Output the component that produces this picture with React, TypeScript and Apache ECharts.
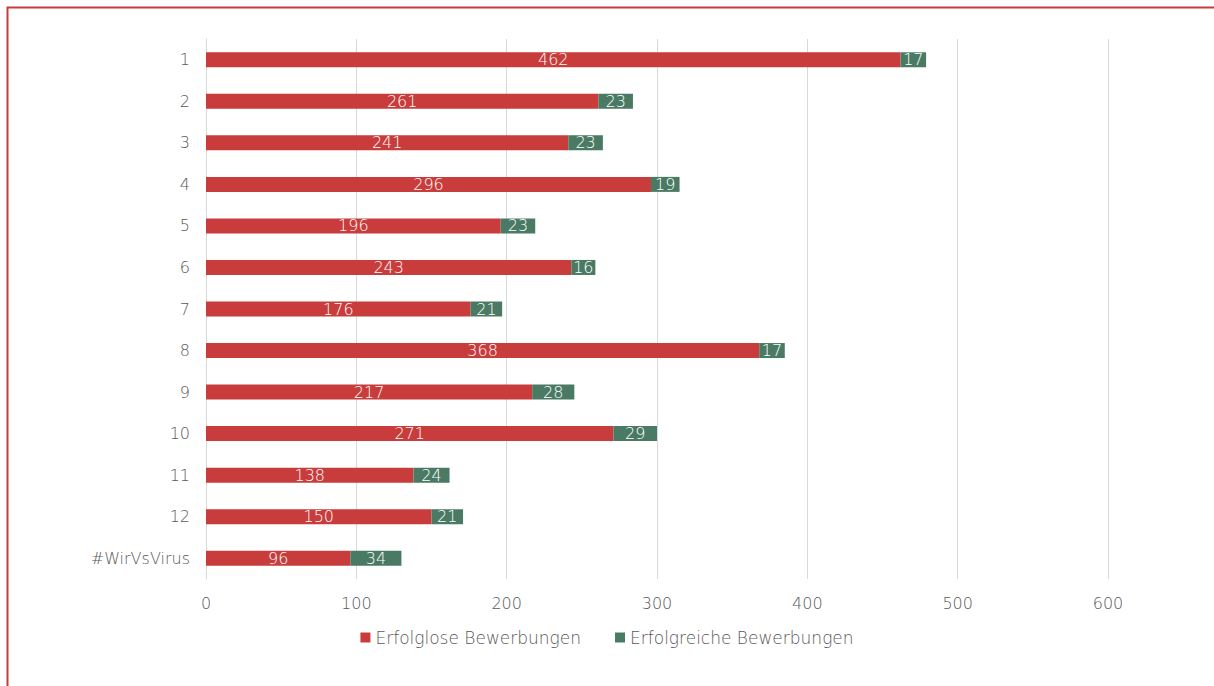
import React, { useEffect, useRef } from "react";
import * as echarts from "echarts";

const categories = ["1", "2", "3", "4", "5", "6", "7", "8", "9", "10", "11", "12", "#WirVsVirus"];
const failed = [462, 261, 241, 296, 196, 243, 176, 368, 217, 271, 138, 150, 96];
const success = [17, 23, 23, 19, 23, 16, 21, 17, 28, 29, 24, 21, 34];
const seriesNames = ["Erfolglose Bewerbungen", "Erfolgreiche Bewerbungen"];

const FONT = "DejaVu Sans";

export default function App() {
  const ref = useRef<HTMLDivElement>(null);
  useEffect(() => {
    if (!ref.current) return;
    const chart = echarts.init(ref.current, null, { renderer: "svg" });
    const label = {
      show: true,
      position: "inside",
      color: "#ffffff",
      fontFamily: FONT,
      fontSize: 16,
      fontWeight: 200,
      textBorderWidth: 0,
      textShadowBlur: 0,
    };
    chart.setOption({
      animation: false,
      backgroundColor: "#ffffff",
      textStyle: { fontFamily: FONT, fontWeight: 200 },
      grid: { left: 206, right: 106, top: 39, bottom: 107, containLabel: false },
      legend: {
        bottom: 35,
        left: "center",
        itemWidth: 10,
        itemHeight: 10,
        itemGap: 34,
        icon: "rect",
        textStyle: { color: "#595959", fontSize: 17, fontFamily: FONT, fontWeight: 200 },
        data: seriesNames,
      },
      xAxis: {
        type: "value",
        min: 0,
        max: 600,
        interval: 100,
        axisLine: { show: false },
        axisTick: { show: false },
        splitLine: { lineStyle: { color: "#d9d9d9", width: 1 } },
        axisLabel: { color: "#595959", fontSize: 16, margin: 16, fontFamily: FONT, fontWeight: 200 },
      },
      yAxis: {
        type: "category",
        data: categories,
        inverse: true,
        axisLine: { show: true, lineStyle: { color: "#d9d9d9", width: 1 } },
        axisTick: { show: false },
        axisLabel: { color: "#595959", fontSize: 16, margin: 16, fontFamily: FONT, fontWeight: 200 },
      },
      series: [
        {
          name: seriesNames[0],
          type: "bar",
          stack: "total",
          data: failed,
          barWidth: 15,
          itemStyle: { color: "#c83c3c" },
          label,
        },
        {
          name: seriesNames[1],
          type: "bar",
          stack: "total",
          data: success,
          barWidth: 15,
          itemStyle: { color: "#4a7a64" },
          label,
        },
      ],
      graphic: [
        {
          type: "rect",
          left: 5,
          top: 5,
          shape: { x: 0, y: 0, width: 1230, height: 700 },
          style: { fill: "none", stroke: "#c83c3c", lineWidth: 2 },
          silent: true,
        },
      ],
    });
    return () => chart.dispose();
  }, []);
  return (
    <div
      ref={ref}
      style={{ position: "fixed", left: 0, top: 0, width: 1214, height: 686 }}
    />
  );
}
